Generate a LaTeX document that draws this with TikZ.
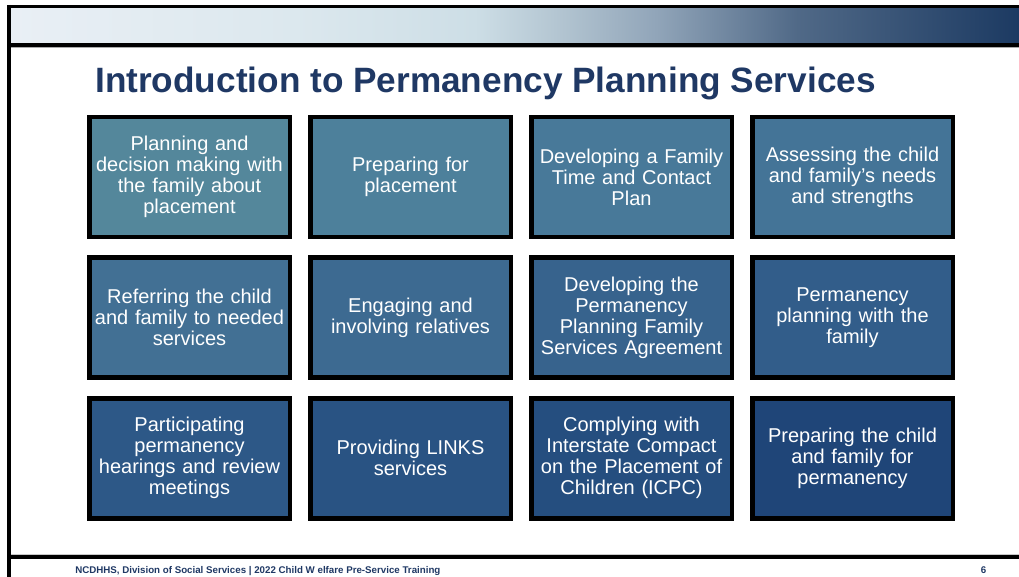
\documentclass[tikz,border=0pt]{standalone}
\usepackage{fontspec}
\setmainfont{Liberation Sans}
\definecolor{barA}{RGB}{233,239,245}
\definecolor{barB}{RGB}{220,232,238}
\definecolor{barC}{RGB}{205,222,230}
\definecolor{barD}{RGB}{180,198,210}
\definecolor{barE}{RGB}{145,165,185}
\definecolor{barF}{RGB}{80,105,135}
\definecolor{barG}{RGB}{28,58,98}
\definecolor{navy}{RGB}{31,56,100}
\pgfdeclarehorizontalshading{barshade}{100bp}{color(0bp)=(barA); color(25bp)=(barA); color(39bp)=(barB); color(48bp)=(barC); color(52bp)=(barD); color(57bp)=(barE); color(64bp)=(barF); color(75bp)=(barG); color(100bp)=(barG)}
\begin{document}
\begin{tikzpicture}[x=0.75pt,y=0.75pt,yscale=-1,xscale=1,
  pbox/.style={draw=black, line width=3.4pt, minimum width=150.4pt, minimum height=90pt, text width=146pt, align=center, inner sep=0pt, text=white, font=\fontsize{15}{15.75}\selectfont}]
\useasboundingbox (0,0) rectangle (1019,577);

%Frame lines
\draw [line width=2.6pt]  (9.2,5) -- (9.2,577) ;
\draw [line width=3pt]  (7.5,7) -- (1019,7) ;
\fill [shading=barshade]  (11,9) rectangle (1019,43) ;
\draw [line width=3.2pt]  (11,45) -- (1019,45) ;
\draw [color={rgb, 255:red, 170; green, 170; blue, 170 }  ][line width=0.75]  (11,48) -- (1019,48) ;
\draw [color={rgb, 255:red, 200; green, 200; blue, 200 }  ][line width=0.75]  (11,554) -- (1019,554) ;
\draw [line width=2.6pt]  (11,556.8) -- (1019,556.8) ;

% Text Node
\draw (95,92.7) node (title) [anchor=base west][inner sep=0pt]  [font=\fontsize{26.4}{30}\bfseries\selectfont] [color=navy] {Introduction to Permanency Planning Services};

%Row 1
\draw (189.5,177) node (b11) [pbox, fill={rgb, 255:red, 84; green, 135; blue, 155 }] {Planning and\\decision making with\\the family about\\placement};
\draw (410.5,177) node (b12) [pbox, fill={rgb, 255:red, 77; green, 128; blue, 155 }] {Preparing for\\placement};
\draw (631.5,177) node (b13) [pbox, fill={rgb, 255:red, 72; green, 121; blue, 153 }] {Developing a Family\\Time and Contact\\Plan};
\draw (852.5,177) node (b14) [pbox, fill={rgb, 255:red, 68; green, 116; blue, 151 }] {Assessing the child\\and family’s needs\\and strengths};
%Row 2
\draw (189.5,317.5) node (b21) [pbox, fill={rgb, 255:red, 66; green, 112; blue, 148 }] {Referring the child\\and family to needed\\services};
\draw (410.5,317.5) node (b22) [pbox, fill={rgb, 255:red, 61; green, 106; blue, 145 }] {Engaging and\\involving relatives};
\draw (631.5,317.5) node (b23) [pbox, fill={rgb, 255:red, 55; green, 99; blue, 141 }] {Developing the\\Permanency\\Planning Family\\Services Agreement};
\draw (852.5,317.5) node (b24) [pbox, fill={rgb, 255:red, 50; green, 93; blue, 138 }] {Permanency\\planning with the\\family};
%Row 3
\draw (189.5,458.3) node (b31) [pbox, fill={rgb, 255:red, 45; green, 88; blue, 135 }] {Participating\\permanency\\hearings and review\\meetings};
\draw (410.5,458.3) node (b32) [pbox, fill={rgb, 255:red, 41; green, 83; blue, 131 }] {Providing LINKS\\services};
\draw (631.5,458.3) node (b33) [pbox, fill={rgb, 255:red, 37; green, 78; blue, 127 }] {Complying with\\Interstate Compact\\on the Placement of\\Children (ICPC)};
\draw (852.5,458.3) node (b34) [pbox, fill={rgb, 255:red, 31; green, 69; blue, 120 }] {Preparing the child\\and family for\\permanency};

% Text Node
\draw (75,573.3) node (foot) [anchor=base west][inner sep=0pt]  [font=\fontsize{7.3}{8}\bfseries\selectfont] [color=navy] {NCDHHS, Division of Social Services | 2022 Child W elfare Pre-Service Training};
% Text Node
\draw (983.5,573.3) node (pagenum) [anchor=base][inner sep=0pt]  [font=\fontsize{7.3}{8}\bfseries\selectfont] [color=navy] {6};
\end{tikzpicture}
\end{document}
